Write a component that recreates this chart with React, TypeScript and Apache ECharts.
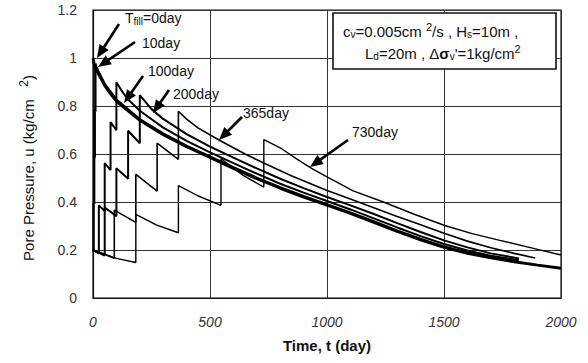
import React, { useEffect, useRef } from "react";
import * as echarts from "echarts";

// Pore pressure u (kg/cm²) against time t (day) for each fill period T_fill.
// Each fill is placed in five equal increments, so the curves step up.
const fill0: [number, number][] = [
  [0, 1], [5, 0.975], [10, 0.958], [25, 0.93], [50, 0.885], [75, 0.85], [100, 0.82],
  [150, 0.78], [200, 0.74], [300, 0.68], [400, 0.63], [500, 0.585], [600, 0.54],
  [700, 0.497], [800, 0.457], [900, 0.42], [1000, 0.387], [1100, 0.352], [1200, 0.315],
  [1300, 0.277], [1400, 0.242], [1500, 0.211], [1600, 0.186], [1700, 0.167],
  [1800, 0.151], [1900, 0.137], [2000, 0.124],
];

const fill10: [number, number][] = [
  [0, 0.2], [2.5, 0.197], [2.5, 0.397], [5, 0.392], [5, 0.592], [7.5, 0.585], [7.5, 0.785],
  [10, 0.776], [10, 0.976], [15, 0.962], [25, 0.94], [50, 0.892], [100, 0.826],
  [200, 0.745], [300, 0.685], [400, 0.634], [500, 0.589], [600, 0.544], [700, 0.501],
  [800, 0.461], [900, 0.424], [1000, 0.39], [1100, 0.356], [1200, 0.319], [1300, 0.281],
  [1400, 0.246], [1500, 0.214], [1600, 0.189], [1700, 0.169], [1820, 0.151],
];

const fill100: [number, number][] = [
  [0, 0.2], [25, 0.186], [25, 0.386], [50, 0.362], [50, 0.562], [75, 0.533], [75, 0.733],
  [100, 0.699], [100, 0.899], [125, 0.86], [150, 0.827], [200, 0.78], [300, 0.71],
  [400, 0.655], [500, 0.607], [600, 0.562], [700, 0.518], [800, 0.476], [900, 0.439],
  [1000, 0.404], [1100, 0.369], [1200, 0.332], [1300, 0.294], [1400, 0.258],
  [1500, 0.225], [1600, 0.198], [1700, 0.176], [1820, 0.157],
];

const fill200: [number, number][] = [
  [0, 0.2], [50, 0.177], [50, 0.377], [100, 0.341], [100, 0.541], [150, 0.497],
  [150, 0.697], [200, 0.645], [200, 0.845], [250, 0.787], [300, 0.746], [400, 0.683],
  [500, 0.631], [600, 0.585], [700, 0.54], [800, 0.497], [900, 0.458], [1000, 0.421],
  [1100, 0.386], [1200, 0.35], [1300, 0.312], [1400, 0.275], [1500, 0.24], [1600, 0.211],
  [1700, 0.186], [1820, 0.165],
];

const fill365: [number, number][] = [
  [0, 0.2], [91, 0.166], [91, 0.366], [183, 0.315], [183, 0.515], [274, 0.445],
  [274, 0.645], [365, 0.578], [365, 0.778], [400, 0.745], [450, 0.708], [550, 0.652],
  [650, 0.6], [750, 0.553], [850, 0.508], [1000, 0.448], [1100, 0.412], [1200, 0.376],
  [1300, 0.34], [1400, 0.305], [1500, 0.27], [1600, 0.237], [1700, 0.209], [1800, 0.186],
  [1890, 0.167],
];

const fill730: [number, number][] = [
  [0, 0.2], [100, 0.165], [183, 0.148], [183, 0.348], [270, 0.305], [365, 0.272],
  [365, 0.468], [450, 0.425], [547, 0.386], [547, 0.58], [640, 0.512], [730, 0.462],
  [730, 0.66], [760, 0.645], [806, 0.622], [870, 0.58], [934, 0.54], [1000, 0.505],
  [1112, 0.446], [1241, 0.4], [1370, 0.35], [1503, 0.302], [1620, 0.268], [1739, 0.24],
  [1882, 0.207], [2000, 0.179],
];

const curves = [
  { name: "0day", data: fill0, width: 2.8 },
  { name: "10day", data: fill10, width: 2.4 },
  { name: "100day", data: fill100, width: 2 },
  { name: "200day", data: fill200, width: 2 },
  { name: "365day", data: fill365, width: 1.6 },
  { name: "730day", data: fill730, width: 1.4 },
];

const FONT = "'Liberation Sans', Arial, sans-serif";

// Straight arrow with a filled head, from tail (x1, y1) to tip (x2, y2).
function arrow(x1: number, y1: number, x2: number, y2: number) {
  const len = Math.hypot(x2 - x1, y2 - y1);
  const dx = (x2 - x1) / len;
  const dy = (y2 - y1) / len;
  const head = 13;
  const half = 5.5;
  const bx = x2 - dx * head;
  const by = y2 - dy * head;
  return [
    {
      type: "line",
      shape: { x1, y1, x2: bx + dx * 2, y2: by + dy * 2 },
      style: { stroke: "#000", lineWidth: 2.6 },
      z: 20,
    },
    {
      type: "polygon",
      shape: {
        points: [
          [x2, y2],
          [bx - dy * half, by + dx * half],
          [bx + dy * half, by - dx * half],
        ],
      },
      style: { fill: "#000" },
      z: 20,
    },
  ];
}

function label(x: number, y: number, text: string, size: number, rich?: any) {
  return {
    type: "text",
    x,
    y,
    z: 21,
    style: {
      text,
      fill: "#111",
      font: `${size}px ${FONT}`,
      textVerticalAlign: "middle",
      rich,
    },
  };
}

const subStyle = { fontSize: 10, fontFamily: FONT, padding: [7, 0, 0, 0], fill: "#111" };
const supStyle = { fontSize: 11, fontFamily: FONT, padding: [0, 0, 8, 0], fill: "#111" };

export default function App() {
  const ref = useRef<HTMLDivElement>(null);

  useEffect(() => {
    const chart = echarts.init(ref.current!, null, { renderer: "svg" });
    chart.setOption({
      animation: false,
      backgroundColor: "#fff",
      grid: { left: 93, right: 27, top: 10, bottom: 65, show: true, borderColor: "#111", borderWidth: 1.2 },
      xAxis: {
        type: "value",
        min: 0,
        max: 2000,
        interval: 500,
        axisLine: { show: true, lineStyle: { color: "#111", width: 1.2 } },
        axisTick: { show: false },
        axisLabel: {
          color: "#333",
          fontSize: 14,
          fontFamily: FONT,
          margin: 17,
          fontStyle: "italic",
          formatter: (v: number) => String(v),
        },
        splitLine: { show: true, lineStyle: { color: "#333", width: 1 } },
      },
      yAxis: {
        type: "value",
        min: 0,
        max: 1.2,
        interval: 0.2,
        axisLine: { show: true, lineStyle: { color: "#111", width: 1.2 } },
        axisTick: { show: false },
        axisLabel: { color: "#333", fontSize: 14, fontFamily: FONT, margin: 16 },
        splitLine: { show: true, lineStyle: { color: "#333", width: 1 } },
      },
      series: curves.map((c) => ({
        name: c.name,
        type: "line",
        data: c.data,
        showSymbol: false,
        symbol: "none",
        lineStyle: { color: "#000", width: c.width },
        z: 5,
      })),
      graphic: [
        // axis titles
        {
          type: "text",
          x: 327,
          y: 345,
          style: {
            text: "Time, t (day)",
            font: `bold 15px ${FONT}`,
            fill: "#111",
            textAlign: "center",
            textVerticalAlign: "middle",
          },
        },
        {
          type: "text",
          x: 28,
          y: 168,
          rotation: Math.PI / 2,
          style: {
            text: "Pore Pressure, u (kg/cm   {sup|2})",
            font: `15px ${FONT}`,
            fill: "#111",
            textAlign: "center",
            textVerticalAlign: "middle",
            rich: { sup: { ...supStyle, fontSize: 12 } },
          },
        },
        // parameter box
        {
          type: "rect",
          shape: { x: 333, y: 13, width: 223, height: 56 },
          style: { fill: "#fff", stroke: "#111", lineWidth: 1.6 },
          z: 19,
        },
        label(343, 31, "c{sub|v}=0.005cm {sup|2}/s , H{sub|s}=10m ,", 15, { sub: subStyle, sup: supStyle }),
        label(365, 53, "L{sub|d}=20m , Δ{b|σ}{sub|v}'=1kg/cm{sup|2}", 15, {
          sub: subStyle,
          sup: supStyle,
          b: { fontSize: 15, fontFamily: FONT, fontWeight: "bold", fill: "#111" },
        }),
        // curve labels and arrows
        label(125, 18, "T{sub|fill}=0day", 14, { sub: subStyle }),
        ...arrow(119, 24, 97, 58),
        label(142, 43, "10day", 14),
        ...arrow(135, 42, 98, 67),
        label(148, 71, "100day", 14),
        ...arrow(143, 76, 124, 103),
        label(173, 94, "200day", 14),
        ...arrow(169, 90, 153, 113),
        label(243, 113, "365day", 14),
        ...arrow(242, 117, 219, 140),
        label(352, 132, "730day", 14),
        ...arrow(348, 140, 310, 167),
      ],
    });
    return () => chart.dispose();
  }, []);

  return (
    <div
      ref={ref}
      style={{ position: "fixed", left: 0, top: 0, width: 588, height: 363, background: "#fff" }}
    />
  );
}
